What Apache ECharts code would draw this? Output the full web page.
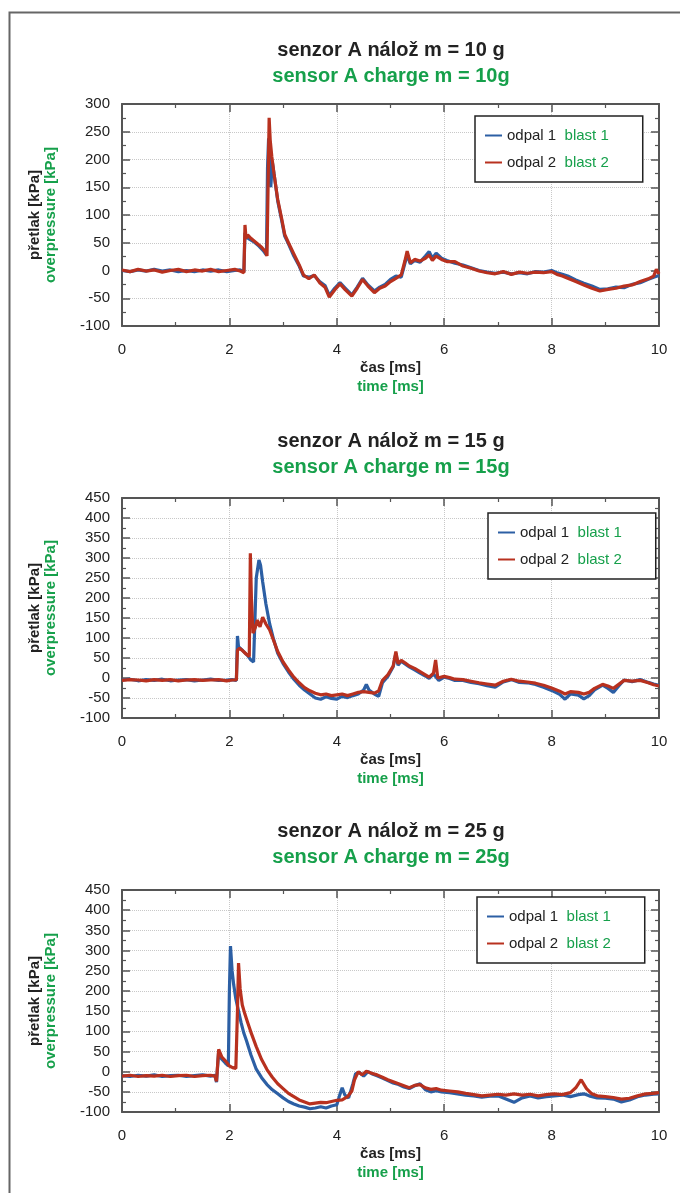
<!DOCTYPE html>
<html>
<head>
<meta charset="utf-8">
<script src="https://cdn.jsdelivr.net/npm/echarts@6/dist/echarts.min.js"></script>
<style>
  html, body { margin: 0; padding: 0; background: #fff; }
  #chart { width: 680px; height: 1193px; }
</style>
</head>
<body>
<div id="chart"></div>
<script>
// --- data ---
const titlesCz = ["senzor A nálož m = 10 g", "senzor A nálož m = 15 g", "senzor A nálož m = 25 g"];
const titlesEn = ["sensor A charge m = 10g", "sensor A charge m = 15g", "sensor A charge m = 25g"];
const seriesCz = ["odpal 1", "odpal 2"];
const seriesEn = ["blast 1", "blast 2"];
const xAxisCz = "čas [ms]";
const xAxisEn = "time [ms]";
const yAxisCz = "přetlak [kPa]";
const yAxisEn = "overpressure [kPa]";
const xMin = 0, xMax = 10, xStep = 2;
const yMin = -100, yStep = 50;
const yMax = [300, 450, 450];

// 10 g charge  [time ms, overpressure kPa]
const blast1_10g = [
  [0,0],[0.15,-2],[0.3,1],[0.45,-1],[0.6,2],[0.75,-1],[0.9,1],[1.05,-2],[1.2,0],[1.35,-2],[1.5,1],[1.65,-1],[1.8,1],[1.95,-2],[2.1,0],[2.2,1],[2.27,-2],
  [2.29,68],[2.32,60],[2.38,56],[2.45,52],[2.55,44],[2.63,36],[2.69,28],[2.71,185],[2.73,238],[2.75,200],[2.77,150],[2.8,195],[2.84,168],
  [2.9,125],[2.97,92],[3.03,62],[3.1,48],[3.2,26],[3.3,8],[3.38,-10],[3.48,-12],[3.58,-9],[3.68,-20],[3.78,-27],[3.86,-45],[3.96,-32],
  [4.06,-22],[4.16,-32],[4.28,-44],[4.38,-30],[4.48,-14],[4.58,-26],[4.7,-37],[4.8,-30],[4.9,-25],[5.0,-16],[5.1,-10],[5.2,-12],
  [5.27,14],[5.31,28],[5.37,12],[5.45,18],[5.55,15],[5.65,26],[5.72,34],[5.78,22],[5.85,31],[5.95,22],[6.05,18],[6.2,13],[6.35,10],
  [6.5,5],[6.65,0],[6.8,-3],[6.95,-5],[7.1,-3],[7.25,-6],[7.4,-4],[7.55,-6],[7.7,-2],[7.85,-3],[8.0,0],[8.1,-4],[8.2,-7],[8.3,-10],
  [8.45,-17],[8.6,-23],[8.75,-28],[8.9,-34],[9.05,-33],[9.2,-30],[9.35,-31],[9.5,-25],[9.65,-22],[9.8,-16],[9.9,-12],[10,-9]
];
const blast2_10g = [
  [0,1],[0.15,-2],[0.3,2],[0.45,-1],[0.6,1],[0.75,-3],[0.9,0],[1.05,2],[1.2,-2],[1.35,1],[1.5,-1],[1.65,2],[1.8,-2],[1.95,0],[2.1,2],[2.2,-1],[2.27,-4],
  [2.29,82],[2.31,58],[2.34,64],[2.4,58],[2.5,50],[2.6,42],[2.67,34],[2.7,26],[2.72,150],[2.74,275],[2.76,235],[2.79,205],[2.83,175],
  [2.9,128],[2.97,95],[3.03,65],[3.1,50],[3.2,30],[3.3,10],[3.38,-8],[3.48,-15],[3.58,-8],[3.68,-22],[3.78,-30],[3.86,-48],[3.96,-35],
  [4.06,-24],[4.16,-35],[4.28,-46],[4.38,-32],[4.48,-16],[4.58,-28],[4.7,-40],[4.8,-32],[4.9,-28],[5.0,-20],[5.1,-14],[5.2,-8],
  [5.27,18],[5.31,35],[5.37,14],[5.45,20],[5.55,17],[5.65,22],[5.72,28],[5.78,18],[5.85,26],[5.95,20],[6.05,16],[6.2,16],[6.35,8],
  [6.5,4],[6.65,-1],[6.8,-4],[6.95,-6],[7.1,-2],[7.25,-7],[7.4,-3],[7.55,-5],[7.7,-3],[7.85,-4],[8.0,-2],[8.1,-7],[8.2,-10],[8.3,-14],
  [8.45,-20],[8.6,-26],[8.75,-32],[8.9,-37],[9.05,-34],[9.2,-32],[9.35,-28],[9.5,-26],[9.65,-20],[9.8,-15],[9.9,-10],[9.95,2],[10,-6]
];

// 15 g charge
const blast1_15g = [
  [0,-5],[0.15,-3],[0.3,-7],[0.45,-4],[0.6,-6],[0.75,-3],[0.9,-7],[1.05,-5],[1.2,-4],[1.35,-7],[1.5,-5],[1.65,-3],[1.8,-6],[1.95,-5],[2.05,-4],[2.13,-6],
  [2.15,105],[2.17,78],[2.22,72],[2.28,64],[2.34,56],[2.4,45],[2.45,40],[2.5,250],[2.55,295],[2.58,282],[2.62,240],[2.68,185],[2.75,135],
  [2.82,98],[2.9,62],[3.0,36],[3.1,15],[3.2,-3],[3.3,-18],[3.4,-30],[3.5,-40],[3.6,-50],[3.7,-53],[3.8,-47],[3.9,-51],[4.0,-53],
  [4.1,-46],[4.2,-49],[4.3,-44],[4.4,-40],[4.5,-30],[4.55,-16],[4.6,-30],[4.7,-40],[4.78,-46],[4.85,-12],[4.95,4],[5.05,28],[5.1,62],
  [5.14,32],[5.2,42],[5.27,35],[5.35,28],[5.45,20],[5.55,12],[5.65,5],[5.72,-1],[5.8,10],[5.9,-6],[6.0,2],[6.1,-1],[6.2,-6],[6.35,-6],
  [6.5,-11],[6.65,-14],[6.8,-19],[6.95,-23],[7.1,-10],[7.25,-4],[7.4,-11],[7.55,-12],[7.7,-16],[7.85,-23],[8.0,-31],[8.15,-41],[8.25,-53],
  [8.35,-40],[8.5,-43],[8.6,-52],[8.7,-44],[8.8,-30],[8.95,-18],[9.05,-26],[9.15,-36],[9.25,-20],[9.35,-5],[9.5,-9],[9.65,-4],[9.8,-11],[9.9,-15],[10,-18]
];
const blast2_15g = [
  [0,-6],[0.15,-4],[0.3,-5],[0.45,-7],[0.6,-4],[0.75,-6],[0.9,-4],[1.05,-7],[1.2,-5],[1.35,-4],[1.5,-6],[1.65,-5],[1.8,-4],[1.95,-7],[2.05,-5],[2.13,-5],
  [2.15,70],[2.19,74],[2.25,68],[2.31,60],[2.37,54],[2.39,312],[2.41,200],[2.44,112],[2.48,125],[2.52,145],[2.57,128],[2.62,152],[2.68,135],
  [2.75,120],[2.82,95],[2.9,66],[3.0,40],[3.1,20],[3.2,2],[3.3,-12],[3.4,-24],[3.5,-32],[3.6,-38],[3.7,-42],[3.8,-40],[3.9,-44],[4.0,-42],
  [4.1,-40],[4.2,-44],[4.3,-40],[4.4,-36],[4.5,-34],[4.6,-36],[4.7,-38],[4.78,-32],[4.85,-6],[4.95,8],[5.05,30],[5.1,66],[5.14,36],
  [5.2,44],[5.27,38],[5.35,30],[5.45,24],[5.55,16],[5.65,8],[5.72,2],[5.8,12],[5.84,45],[5.88,0],[6.0,4],[6.1,1],[6.2,-3],[6.35,-4],
  [6.5,-8],[6.65,-12],[6.8,-15],[6.95,-18],[7.1,-8],[7.25,-3],[7.4,-8],[7.55,-10],[7.7,-13],[7.85,-18],[8.0,-25],[8.15,-33],[8.25,-40],
  [8.35,-34],[8.5,-36],[8.6,-40],[8.7,-36],[8.8,-26],[8.95,-16],[9.05,-20],[9.15,-26],[9.25,-16],[9.35,-6],[9.5,-8],[9.65,-6],[9.8,-12],[9.9,-17],[10,-20]
];

// 25 g charge
const blast1_25g = [
  [0,-10],[0.15,-12],[0.3,-9],[0.45,-11],[0.6,-8],[0.75,-12],[0.9,-10],[1.05,-9],[1.2,-12],[1.35,-10],[1.5,-8],[1.65,-11],[1.73,-9],[1.76,-26],
  [1.8,50],[1.85,32],[1.92,22],[1.98,14],[2.0,200],[2.02,311],[2.05,250],[2.08,215],[2.12,180],[2.17,150],[2.22,120],[2.27,95],[2.32,76],
  [2.4,42],[2.5,6],[2.6,-15],[2.7,-32],[2.8,-45],[2.9,-55],[3.0,-65],[3.1,-74],[3.2,-80],[3.3,-85],[3.4,-88],[3.5,-92],[3.6,-90],[3.7,-87],
  [3.8,-90],[3.9,-85],[4.0,-82],[4.05,-60],[4.1,-40],[4.15,-58],[4.22,-65],[4.3,-30],[4.35,-5],[4.42,-2],[4.5,-11],[4.58,0],[4.65,-5],
  [4.75,-10],[4.85,-16],[4.95,-22],[5.05,-28],[5.15,-32],[5.25,-38],[5.35,-42],[5.45,-35],[5.55,-30],[5.65,-45],[5.75,-50],[5.85,-47],
  [5.95,-50],[6.1,-52],[6.25,-55],[6.4,-58],[6.55,-60],[6.7,-63],[6.85,-61],[7.0,-60],[7.15,-68],[7.3,-76],[7.45,-65],[7.6,-60],[7.75,-65],
  [7.9,-62],[8.05,-60],[8.2,-58],[8.35,-62],[8.5,-57],[8.6,-55],[8.7,-60],[8.85,-65],[9.0,-66],[9.15,-68],[9.3,-75],[9.45,-70],[9.6,-62],
  [9.75,-58],[9.9,-56],[10,-55]
];
const blast2_25g = [
  [0,-11],[0.15,-9],[0.3,-12],[0.45,-10],[0.6,-11],[0.75,-9],[0.9,-12],[1.05,-10],[1.2,-9],[1.35,-12],[1.5,-10],[1.65,-9],[1.73,-11],[1.76,-24],
  [1.8,55],[1.86,36],[1.93,26],[2.0,14],[2.06,10],[2.12,8],[2.15,150],[2.17,269],[2.2,205],[2.24,165],[2.29,142],[2.34,122],[2.4,98],
  [2.5,62],[2.6,30],[2.7,5],[2.8,-14],[2.9,-30],[3.0,-42],[3.1,-54],[3.2,-62],[3.3,-70],[3.4,-75],[3.5,-80],[3.6,-78],[3.7,-76],[3.8,-77],
  [3.9,-74],[4.0,-71],[4.1,-70],[4.2,-62],[4.28,-48],[4.33,-20],[4.4,0],[4.47,-8],[4.55,1],[4.65,-4],[4.75,-8],[4.85,-14],[4.95,-20],
  [5.05,-25],[5.15,-30],[5.25,-35],[5.35,-40],[5.45,-34],[5.55,-32],[5.65,-40],[5.75,-44],[5.85,-42],[5.95,-46],[6.1,-48],[6.25,-50],
  [6.4,-54],[6.55,-57],[6.7,-60],[6.85,-58],[7.0,-56],[7.15,-58],[7.3,-55],[7.45,-58],[7.6,-56],[7.75,-60],[7.9,-57],[8.05,-55],[8.2,-57],
  [8.35,-52],[8.45,-40],[8.55,-20],[8.65,-42],[8.75,-55],[8.85,-60],[9.0,-62],[9.15,-64],[9.3,-68],[9.45,-66],[9.6,-60],[9.75,-55],[9.9,-54],[10,-52]
];

const panels = [
  [blast1_10g, blast2_10g],
  [blast1_15g, blast2_15g],
  [blast1_25g, blast2_25g],
];

// --- layout & style ---
const FONT = "'Liberation Sans Narrow', 'Liberation Sans', Arial, sans-serif";
const GREEN = "#16a04b";
const INK = "#222";
const FRAME = "#555";
const COLORS = ["#2c5fa4", "#b8311f"];

const gridBoxes = [
  { top: 104, height: 222 },
  { top: 498, height: 220 },
  { top: 890, height: 222 },
];
const titleTops = [40, 431, 821];
const legendBoxes = [
  { left: 475, top: 116 },
  { left: 488, top: 513 },
  { left: 477, top: 897 },
];

const chartDom = document.getElementById("chart");
const myChart = echarts.init(chartDom, null, { renderer: "canvas" });

const grid = [];
const xAxis = [];
const yAxis = [];
const series = [];
const title = [];
const legend = [];

// axis lines stay on the plot frame, ticks point inward (also on mirrored sides)
const tickCommon = {
  axisLine: { show: true, onZero: false, lineStyle: { color: FRAME, width: 2 } },
  axisTick: { show: true, inside: true, length: 8, lineStyle: { color: FRAME, width: 1.5 } },
  minorTick: { show: true, splitNumber: 2, length: 4, lineStyle: { color: FRAME, width: 1.2 } },
};

panels.forEach((pair, i) => {
  grid.push({ left: 122, width: 537, top: gridBoxes[i].top, height: gridBoxes[i].height });

  // bottom x axis (labels + name + grid lines)
  xAxis.push({
    type: "value", gridIndex: i, position: "bottom",
    min: xMin, max: xMax, interval: xStep,
    ...tickCommon,
    axisLabel: { color: INK, fontSize: 15, fontFamily: FONT, margin: 16 },
    splitLine: { show: true, lineStyle: { color: "#c8c8c8", type: "dotted", width: 1 } },
    name: `{a|${xAxisCz}}\n{b|${xAxisEn}}`,
    nameLocation: "middle",
    nameGap: 32,
    nameTextStyle: {
      rich: {
        a: { color: INK, fontSize: 15, fontWeight: "bold", fontFamily: FONT, lineHeight: 19 },
        b: { color: GREEN, fontSize: 15, fontWeight: "bold", fontFamily: FONT, lineHeight: 19 },
      },
    },
  });
  // mirrored top axis
  xAxis.push({
    type: "value", gridIndex: i, position: "top",
    min: xMin, max: xMax, interval: xStep,
    ...tickCommon,
    axisLabel: { show: false },
    splitLine: { show: false },
  });

  yAxis.push({
    type: "value", gridIndex: i, position: "left",
    min: yMin, max: yMax[i], interval: yStep,
    ...tickCommon,
    axisLabel: { color: INK, fontSize: 15, fontFamily: FONT, margin: 12 },
    splitLine: { show: true, lineStyle: { color: "#c8c8c8", type: "dotted", width: 1 } },
    name: `{a|${yAxisCz}}\n{b|${yAxisEn}}`,
    nameLocation: "middle",
    nameRotate: 90,
    nameGap: 63,
    nameTextStyle: {
      rich: {
        a: { color: INK, fontSize: 15, fontWeight: "bold", fontFamily: FONT, lineHeight: 16 },
        b: { color: GREEN, fontSize: 15, fontWeight: "bold", fontFamily: FONT, lineHeight: 16 },
      },
    },
  });
  yAxis.push({
    type: "value", gridIndex: i, position: "right",
    min: yMin, max: yMax[i], interval: yStep,
    ...tickCommon,
    axisLabel: { show: false },
    splitLine: { show: false },
  });

  pair.forEach((data, k) => {
    series.push({
      type: "line",
      name: `p${i}-${k}`,
      xAxisIndex: i * 2,
      yAxisIndex: i * 2,
      data: data,
      showSymbol: false,
      symbol: "none",
      silent: true,
      animation: false,
      color: COLORS[k],
      lineStyle: { color: COLORS[k], width: 3.2 },
      z: 3 + k,
    });
  });

  title.push({
    text: titlesCz[i],
    subtext: titlesEn[i],
    left: 391,
    textAlign: "center",
    top: titleTops[i],
    padding: 0,
    itemGap: 6,
    textStyle: { color: INK, fontSize: 20, fontWeight: "bold", fontFamily: FONT },
    subtextStyle: { color: GREEN, fontSize: 20, fontWeight: "bold", fontFamily: FONT },
  });

  legend.push({
    data: [`p${i}-0`, `p${i}-1`],
    orient: "vertical",
    left: legendBoxes[i].left,
    top: legendBoxes[i].top,
    backgroundColor: "#fff",
    borderColor: "#222",
    borderWidth: 1.5,
    padding: [12, 34, 12, 10],
    itemGap: 12,
    itemWidth: 17,
    itemHeight: 2,
    icon: "rect",
    selectedMode: false,
    formatter: (name) => {
      const k = Number(name.split("-")[1]);
      return `{a|${seriesCz[k]}}  {b|${seriesEn[k]}}`;
    },
    textStyle: {
      fontFamily: FONT,
      fontSize: 15,
      rich: {
        a: { color: INK, fontSize: 15, fontFamily: FONT },
        b: { color: GREEN, fontSize: 15, fontFamily: FONT },
      },
    },
  });
});

const option = {
  animation: false,
  backgroundColor: "#fff",
  graphic: [
    {
      type: "rect",
      left: 7, top: 10,
      shape: { width: 720, height: 1240 },
      style: { fill: "none", stroke: "#666", lineWidth: 2 },
      silent: true,
    },
  ],
  title,
  legend,
  grid,
  xAxis,
  yAxis,
  series,
};

myChart.setOption(option);
</script>
</body>
</html>
